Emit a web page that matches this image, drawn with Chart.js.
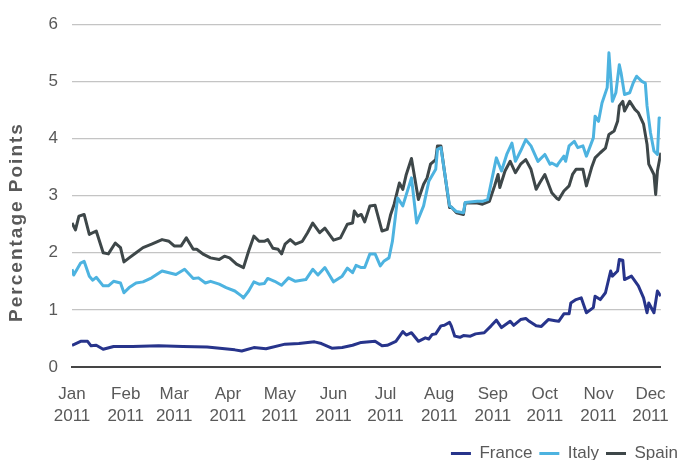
<!DOCTYPE html>
<html>
<head>
<meta charset="utf-8">
<script src="https://cdn.jsdelivr.net/npm/chart.js@4.4.1/dist/chart.umd.min.js"></script>
<style>
    html, body { margin: 0; padding: 0; background: #fff; overflow: hidden; }
    #wrap { width: 685px; height: 472px; position: relative; }
</style>
</head>
<body>
<div id="wrap"><canvas id="spreadChart"></canvas></div>
<script>
// spreads vs Bund, 2011 (x = day of year)
const monthLabels = ['Jan', 'Feb', 'Mar', 'Apr', 'May', 'Jun', 'Jul', 'Aug', 'Sep', 'Oct', 'Nov', 'Dec'];
const monthStartDays = [0, 31, 59, 90, 120, 151, 181, 212, 243, 273, 304, 334];
const yearLabel = '2011';
const yTicks = [0, 1, 2, 3, 4, 5, 6];

const franceDays = [0, 5, 9, 11, 14, 18, 24, 35, 50, 64, 78, 94, 98, 105, 112, 123, 131, 140, 144, 150,
    156, 162, 167, 175, 179, 182, 187, 191, 193, 196, 200, 204, 206, 208, 210, 213, 215, 218, 219, 221,
    224, 226, 230, 233, 238, 242, 245, 248, 253, 255, 259, 262, 264, 268, 271, 275, 279, 281, 284, 287,
    288, 291, 294, 297, 301, 302, 305, 308, 311, 312, 315, 316, 318, 319, 323, 327, 330, 332, 333, 336,
    338, 340];
const franceValues = [0.38, 0.45, 0.45, 0.37, 0.38, 0.31, 0.36, 0.36, 0.37, 0.36, 0.35, 0.30, 0.28, 0.34, 0.32, 0.40, 0.41, 0.44, 0.41, 0.33,
    0.34, 0.38, 0.43, 0.45, 0.37, 0.38, 0.45, 0.62, 0.56, 0.60, 0.45, 0.51, 0.49, 0.57, 0.58, 0.72, 0.73, 0.78, 0.72, 0.54,
    0.52, 0.55, 0.54, 0.58, 0.60, 0.72, 0.82, 0.69, 0.80, 0.73, 0.83, 0.85, 0.80, 0.72, 0.71, 0.83, 0.81, 0.80, 0.93, 0.93,
    1.12, 1.18, 1.21, 0.95, 1.04, 1.24, 1.18, 1.30, 1.68, 1.59, 1.68, 1.88, 1.87, 1.53, 1.59, 1.42, 1.21, 0.95, 1.12, 0.95,
    1.33, 1.24];

const italyDays = [0, 1, 5, 7, 10, 12, 14, 18, 21, 24, 28, 30, 33, 37, 41, 46, 52, 56, 60, 65,
    70, 73, 77, 80, 85, 89, 94, 98, 99, 102, 105, 108, 111, 113, 117, 121, 125, 129, 135, 139,
    142, 146, 151, 156, 159, 162, 164, 167, 169, 172, 175, 178, 180, 183, 185, 188, 191, 196, 199, 203,
    206, 210, 211, 213, 215, 218, 219, 222, 226, 227, 234, 237, 240, 245, 248, 251, 254, 256, 259, 262,
    265, 269, 273, 276, 277, 280, 281, 284, 285, 287, 290, 292, 295, 297, 301, 302, 304, 306, 309, 310,
    312, 314, 316, 317, 319, 322, 324, 326, 329, 331, 332, 334, 336, 338, 339, 340];
const italyValues = [1.71, 1.61, 1.82, 1.85, 1.59, 1.52, 1.57, 1.42, 1.42, 1.50, 1.47, 1.30, 1.39, 1.47, 1.49, 1.56, 1.68, 1.65, 1.62, 1.71,
    1.55, 1.56, 1.47, 1.50, 1.45, 1.39, 1.33, 1.24, 1.21, 1.33, 1.49, 1.45, 1.46, 1.55, 1.50, 1.43, 1.56, 1.50, 1.53, 1.71,
    1.61, 1.74, 1.49, 1.59, 1.73, 1.65, 1.78, 1.74, 1.74, 1.98, 1.98, 1.77, 1.85, 1.91, 2.20, 2.96, 2.82, 3.31, 2.52, 2.82,
    3.25, 3.46, 3.81, 3.84, 3.43, 2.82, 2.80, 2.72, 2.70, 2.88, 2.90, 2.90, 2.93, 3.66, 3.43, 3.72, 3.92, 3.60, 3.78, 3.98,
    3.87, 3.60, 3.72, 3.55, 3.57, 3.52, 3.57, 3.69, 3.60, 3.87, 3.95, 3.84, 3.87, 3.69, 4.01, 4.39, 4.30, 4.62, 4.89, 5.50,
    4.65, 4.80, 5.29, 5.15, 4.77, 4.80, 4.97, 5.09, 5.00, 4.97, 4.57, 4.10, 3.78, 3.72, 4.36, 4.35];

const spainDays = [0, 2, 4, 7, 10, 14, 18, 21, 25, 28, 30, 33, 37, 41, 46, 52, 56, 59, 63, 66,
    70, 72, 76, 80, 85, 88, 91, 95, 99, 102, 105, 108, 111, 113, 116, 119, 121, 123, 126, 129,
    133, 136, 139, 143, 146, 151, 155, 159, 162, 163, 165, 167, 169, 172, 175, 179, 182, 184, 186, 189,
    191, 193, 196, 200, 203, 205, 207, 210, 211, 213, 215, 218, 219, 222, 226, 227, 234, 237, 241, 244,
    246, 247, 250, 253, 256, 259, 262, 265, 268, 270, 273, 277, 280, 281, 284, 287, 289, 291, 295, 297,
    300, 302, 305, 308, 310, 313, 315, 316, 318, 319, 322, 325, 327, 330, 332, 333, 336, 337, 338, 340];
const spainValues = [2.52, 2.40, 2.64, 2.67, 2.32, 2.38, 2.00, 1.98, 2.17, 2.09, 1.84, 1.91, 2.00, 2.09, 2.15, 2.23, 2.20, 2.12, 2.12, 2.26,
    2.06, 2.06, 1.97, 1.91, 1.88, 1.94, 1.91, 1.80, 1.74, 2.03, 2.29, 2.20, 2.20, 2.23, 2.08, 2.06, 1.98, 2.15, 2.23, 2.15,
    2.20, 2.35, 2.52, 2.35, 2.43, 2.22, 2.26, 2.50, 2.52, 2.73, 2.64, 2.67, 2.54, 2.82, 2.83, 2.38, 2.41, 2.67, 2.85, 3.22,
    3.11, 3.37, 3.65, 2.93, 3.20, 3.31, 3.55, 3.63, 3.87, 3.87, 3.43, 2.79, 2.80, 2.70, 2.67, 2.87, 2.87, 2.85, 2.90, 3.17,
    3.37, 3.14, 3.43, 3.60, 3.40, 3.55, 3.63, 3.46, 3.11, 3.22, 3.37, 3.05, 2.95, 2.93, 3.08, 3.17, 3.37, 3.46, 3.46, 3.17,
    3.49, 3.66, 3.75, 3.83, 4.07, 4.13, 4.30, 4.57, 4.65, 4.48, 4.65, 4.51, 4.45, 4.25, 3.90, 3.55, 3.37, 3.02, 3.43, 3.75];

const textColor = '#595959';
const fontFamily = "'Liberation Sans', Arial, sans-serif";

function toPoints(days, values) {
    return days.map((d, i) => ({ x: d, y: values[i] }));
}

// y axis title sits a bit below the middle in the original, so it is drawn by hand
const sideTitle = {
    id: 'sideTitle',
    afterDraw(chart) {
        const { ctx } = chart;
        ctx.save();
        ctx.translate(17, 222);
        ctx.rotate(-Math.PI / 2);
        ctx.font = 'bold 19px ' + fontFamily;
        ctx.letterSpacing = '2px';
        ctx.fillStyle = textColor;
        ctx.textAlign = 'center';
        ctx.textBaseline = 'middle';
        ctx.fillText('Percentage Points', 0, 0);
        ctx.restore();
    }
};

Chart.defaults.font.family = fontFamily;
Chart.defaults.color = textColor;

new Chart(document.getElementById('spreadChart'), {
    type: 'line',
    data: {
        datasets: [
            { label: 'France', data: toPoints(franceDays, franceValues), borderColor: '#27348b', backgroundColor: '#27348b', borderWidth: 3 },
            { label: 'Italy', data: toPoints(italyDays, italyValues), borderColor: '#4db3e0', backgroundColor: '#4db3e0', borderWidth: 3 },
            { label: 'Spain', data: toPoints(spainDays, spainValues), borderColor: '#3e4749', backgroundColor: '#3e4749', borderWidth: 3 }
        ]
    },
    options: {
        responsive: true,
        maintainAspectRatio: false,
        animation: false,
        layout: { padding: { top: 23, right: 0, left: 0, bottom: 0 } },
        elements: {
            point: { radius: 0 },
            line: { tension: 0, borderJoinStyle: 'round' }
        },
        scales: {
            x: {
                type: 'linear',
                min: 0,
                max: 340,
                afterBuildTicks(scale) {
                    scale.ticks = monthStartDays.map(v => ({ value: v }));
                },
                afterFit(scale) { scale.height = 71; },
                ticks: {
                    autoSkip: false,
                    maxRotation: 0,
                    padding: 16,
                    font: { size: 17, lineHeight: 1.3 },
                    callback: v => [monthLabels[monthStartDays.indexOf(v)], yearLabel]
                },
                grid: { display: false, drawTicks: false },
                border: { display: true, color: '#454545', width: 2 }
            },
            y: {
                min: 0,
                max: 6,
                afterBuildTicks(scale) {
                    scale.ticks = yTicks.map(v => ({ value: v }));
                },
                afterFit(scale) { scale.width = 72; },
                ticks: { padding: 14, font: { size: 17 } },
                grid: {
                    drawTicks: false,
                    lineWidth: 1.3,
                    color: c => c.tick.value === 0 ? 'rgba(0,0,0,0)' : '#c4c4c4'
                },
                border: { display: false }
            },
            // empty right-hand axis: keeps the plot short of the legend's right edge
            yRight: {
                position: 'right',
                min: 0,
                max: 6,
                afterFit(scale) { scale.width = 13; },
                ticks: { display: false },
                grid: { display: false, drawTicks: false },
                border: { display: false }
            }
        },
        plugins: {
            legend: {
                position: 'bottom',
                align: 'end',
                labels: {
                    usePointStyle: true,
                    pointStyle: 'line',
                    pointStyleWidth: 20,
                    padding: 7,
                    font: { size: 17 },
                    color: textColor
                }
            },
            tooltip: { enabled: false }
        }
    },
    plugins: [sideTitle]
});
</script>
</body>
</html>
